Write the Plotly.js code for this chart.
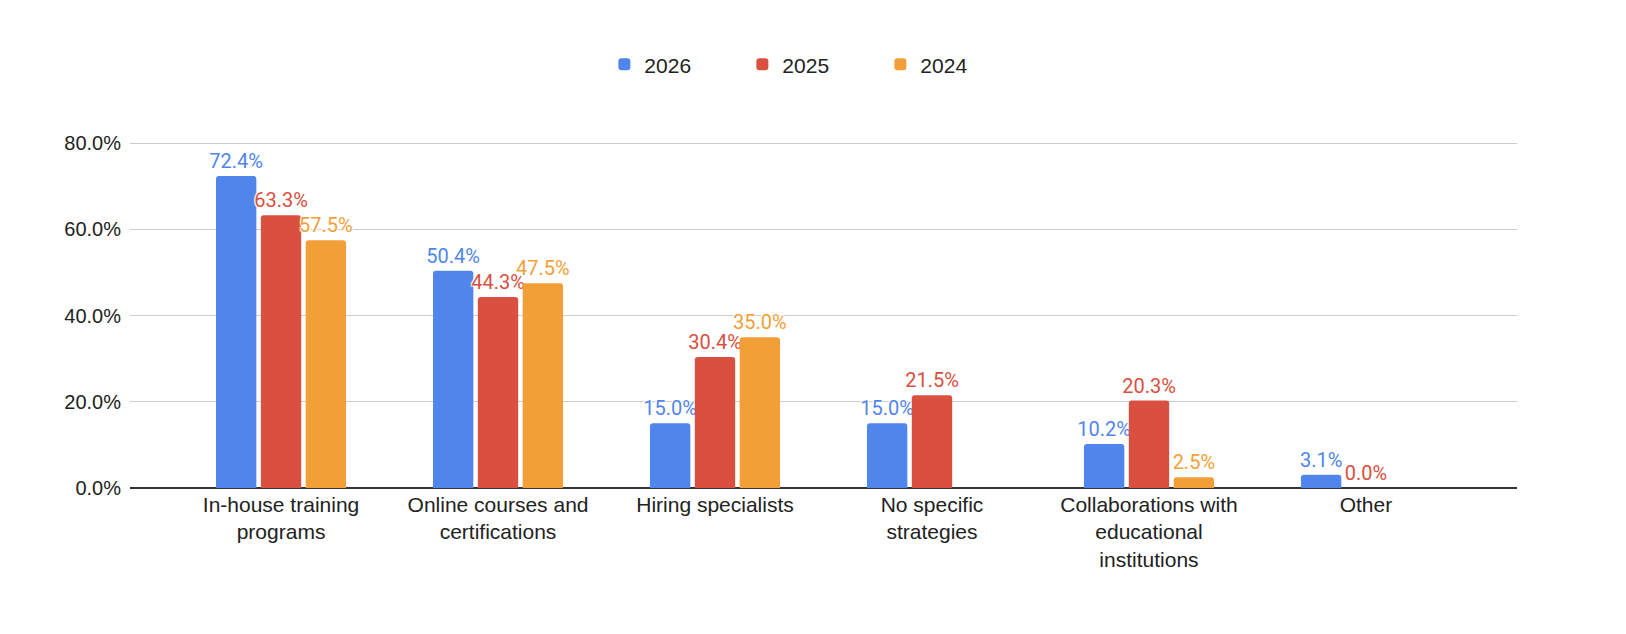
<!DOCTYPE html>
<html>
<head>
<meta charset="utf-8">
<script src="https://cdn.plot.ly/plotly-3.0.1.min.js"></script>
<style>
  html, body { margin: 0; padding: 0; background: #fff; }
  #chart { width: 1626px; height: 634px; }
</style>
</head>
<body>
<div id="chart"></div>
<script>
const categories = [
  'In-house training<br>programs',
  'Online courses and<br>certifications',
  'Hiring specialists',
  'No specific<br>strategies',
  'Collaborations with<br>educational<br>institutions',
  'Other'
];
const values2026 = [72.4, 50.4, 15.0, 15.0, 10.2, 3.1];
const values2025 = [63.3, 44.3, 30.4, 21.5, 20.3, 0.0];
const values2024 = [57.5, 47.5, 35.0, null, 2.5, null];
const seriesNames = ['2026', '2025', '2024'];
const seriesColors = ['#5086ec', '#d95040', '#f29f38'];
const yTickVals = [0, 20, 40, 60, 80];
const yTickText = ['0.0%', '20.0%', '40.0%', '60.0%', '80.0%'];

function barTrace(name, values, color) {
  return {
    type: 'bar',
    name,
    x: categories,
    y: values,
    marker: {color},
    text: values.map(v => v === null ? '' : v.toFixed(1) + '%'),
    textposition: 'outside',
    constraintext: 'none',
    cliponaxis: false,
    textfont: {
      family: 'Roboto',
      size: 20,
      color,
      shadow: '1px 1px 1px #fff, -1px -1px 1px #fff, 1px -1px 1px #fff, -1px 1px 1px #fff'
    },
    hoverinfo: 'x+y'
  };
}

const data = [
  barTrace(seriesNames[0], values2026, seriesColors[0]),
  barTrace(seriesNames[1], values2025, seriesColors[1]),
  barTrace(seriesNames[2], values2024, seriesColors[2])
];

const layout = {
  width: 1626,
  height: 634,
  paper_bgcolor: '#fff',
  plot_bgcolor: '#fff',
  barmode: 'group',
  bargap: 0.38,
  bargroupgap: 0.1,
  barcornerradius: 3,
  font: {family: 'Liberation Sans, Arial', size: 20, color: '#222'},
  margin: {l: 130, r: 109, t: 141, b: 146},
  xaxis: {
    type: 'category',
    range: [-0.696, 5.696],
    showgrid: false,
    showline: false,
    ticks: '',
    ticklabelstandoff: 2,
    tickfont: {family: 'Liberation Sans, Arial', size: 21, color: '#222'}
  },
  yaxis: {
    range: [0, 80.5],
    tickmode: 'array',
    tickvals: yTickVals,
    ticktext: yTickText,
    gridcolor: '#cccccc',
    gridwidth: 1,
    zeroline: true,
    zerolinecolor: '#333',
    zerolinewidth: 1.5,
    ticks: '',
    ticklabelstandoff: 8,
    tickfont: {family: 'Liberation Sans, Arial', size: 20, color: '#222'}
  },
  legend: {
    orientation: 'h',
    x: 0.342,
    xanchor: 'left',
    y: 1.22,
    yanchor: 'middle',
    font: {family: 'Liberation Sans, Arial', size: 21, color: '#222'},
    entrywidth: 93,
    traceorder: 'normal'
  },
  showlegend: true
};

Plotly.newPlot('chart', data, layout, {displayModeBar: false, staticPlot: true});
</script>
</body>
</html>
